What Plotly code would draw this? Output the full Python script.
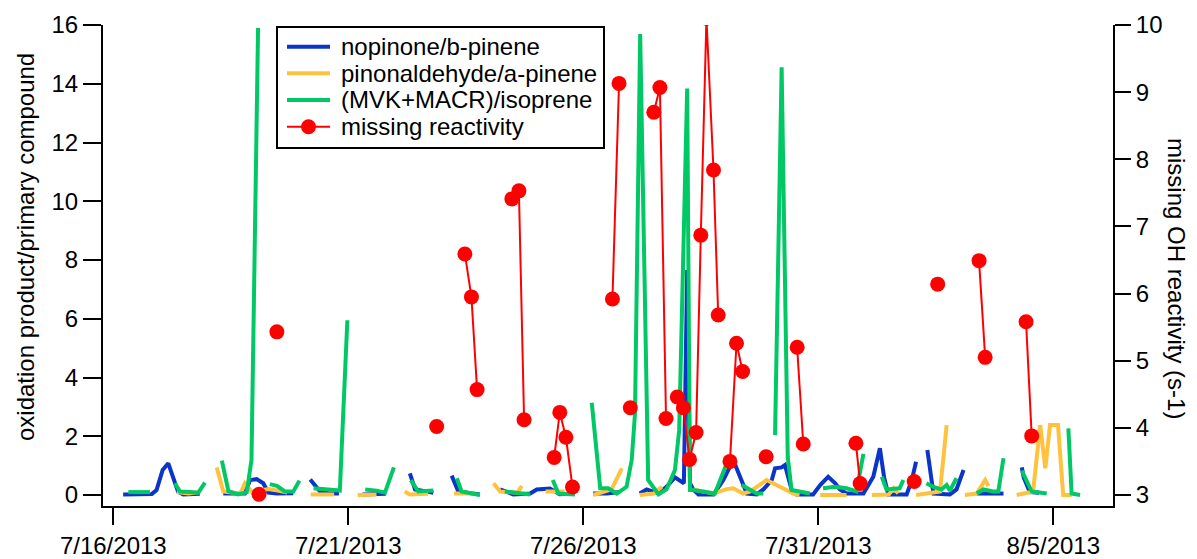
import plotly.graph_objects as go
from plotly.subplots import make_subplots
from datetime import datetime, timedelta

BASE = datetime(2013, 7, 16)

def to_time(d):
    return None if d is None else (BASE + timedelta(days=d)).strftime('%Y-%m-%d %H:%M:%S')

# ---- data: day offsets from 7/16/2013 00:00 (None = gap) ----
nopinone_days = [0.21, 0.5, 0.82, 0.92, 1.05, 1.17, 1.28, 1.38, 1.49, 1.7, 1.84, None,
                 2.34, 2.8, 2.91, 3.05, 3.19, 3.3, 3.48, 3.83, None,
                 4.19, 4.4, 4.6, 4.8, None,
                 5.3, 5.6, 5.8, None,
                 6.31, 6.42, 6.81, None,
                 7.2, 7.34, 7.8, None,
                 8.23, 8.51, 8.87, 9.01, 9.29, 9.5, 9.82, None,
                 10.21, 10.5, 10.78, None,
                 11.2, 11.35, 11.6, 11.77, 11.95, 12.14, 12.21, 12.27, 12.34, 12.45, 12.77, 12.98,
                 13.19, 13.33, 13.48, 13.69, 13.83, 14.01, 14.08, 14.22, 14.29, 14.43, 14.54, 14.89,
                 15.04, 15.21, 15.36, 15.46, 15.6, 15.96, 16.17, 16.31, 16.4, 16.49, 16.88, 16.99, 17.08, None,
                 17.32, 17.45, 17.8, 17.94, 18.09, None,
                 18.37, 18.6, 18.94, None,
                 19.33, 19.37, 19.5, 19.7]
nopinone_ratio = [0.02, 0.03, 0.03, 0.17, 0.85, 1.08, 0.62, 0.11, 0.02, 0.05, 0.04, None,
                  0.05, 0.05, 0.51, 0.54, 0.4, 0.08, 0.05, 0.06, None,
                  0.53, 0.12, 0.05, 0.05, None,
                  0.02, 0.03, 0.04, None,
                  0.74, 0.19, 0.08, None,
                  0.66, 0.12, 0.02, None,
                  0.19, 0.02, 0.05, 0.19, 0.22, 0.03, 0.05, None,
                  0.05, 0.05, 0.1, None,
                  0.05, 0.19, 0.05, 0.28, 0.6, 0.4, 7.66, 0.4, 0.19, 0.02, 0.02, 0.51,
                  1.19, 0.68, 0.05, 0.02, 0.19, 0.51, 0.91, 0.94, 1.02, 0.19, 0.02, 0.02,
                  0.34, 0.62, 0.4, 0.19, 0.05, 0.05, 0.62, 1.59, 0.6, 0.02, 0.02, 0.51, 1.13, None,
                  1.53, 0.05, 0.02, 0.19, 0.85, None,
                  0.05, 0.05, 0.05, None,
                  0.94, 0.6, 0.1, 0.08]

pinonaldehyde_days = [1.35, 1.6, 1.84, None,
                      2.2, 2.34, 2.7, 2.8, 2.95, 3.3, 3.5, 3.7, None,
                      4.2, 4.7, None,
                      5.2, 5.6, None,
                      6.2, 6.31, 6.7, None,
                      7.25, 7.7, None,
                      8.09, 8.23, 8.6, 8.69, None,
                      9.2, 9.6, None,
                      10.21, 10.6, 10.82, None,
                      11.2, 11.5, 11.67, None,
                      12.34, 12.77, 13.05, 13.19, 13.4, 13.55, 13.9, 14.18, 14.47, 14.6, None,
                      15.04, 15.6, None,
                      16.14, 16.5, 16.6, 16.7, None,
                      17.08, 17.59, 17.73, None,
                      18.12, 18.37, 18.55, 18.62, None,
                      19.22, 19.57, 19.72, 19.83, 19.93, 20.1, 20.21, 20.39]
pinonaldehyde_ratio = [0.1, 0.05, 0.1, None,
                       0.94, 0.12, 0.05, 0.4, 0.1, 0.2, 0.15, 0.08, None,
                       0.02, 0.02, None,
                       0.0, 0.02, None,
                       0.12, 0.02, 0.04, None,
                       0.05, 0.05, None,
                       0.4, 0.12, 0.08, 0.31, None,
                       0.12, 0.12, None,
                       0.0, 0.19, 0.91, None,
                       0.0, 0.05, 0.28, None,
                       0.19, 0.05, 0.2, 0.23, 0.05, 0.12, 0.51, 0.28, 0.05, 0.0, None,
                       0.0, 0.0, None,
                       0.0, 0.02, 0.23, 0.05, None,
                       0.0, 0.12, 2.38, None,
                       0.0, 0.05, 0.51, 0.3, None,
                       0.0, 0.12, 2.38, 0.91, 2.38, 2.38, 0.0, 0.0]

mvk_macr_days = [0.32, 0.78, None,
                 1.31, 1.42, 1.63, 1.81, 1.95, None,
                 2.31, 2.45, 2.66, 2.84, 2.94, 3.08, None,
                 3.33, 3.48, 3.65, 3.83, 3.96, None,
                 4.26, 4.82, 4.98, None,
                 5.36, 5.6, 5.78, 5.97, None,
                 6.33, 6.49, 6.81, None,
                 7.31, 7.41, 7.8, None,
                 8.33, 8.87, None,
                 9.35, 9.47, 9.82, None,
                 10.18, 10.36, 10.53, 10.71, 10.92, 11.03, 11.1, 11.21, 11.38, 11.6, 11.77, 11.95,
                 12.04, 12.21, 12.27, 12.34, 12.8, 13.08, None,
                 13.37, 13.69, 13.83, None,
                 14.08, 14.22, 14.35, 14.43, 14.82, None,
                 15.1, 15.36, 15.6, 15.81, 15.96, None,
                 16.35, 16.45, 16.73, 16.81, None,
                 17.3, 17.45, 17.62, 17.73, 17.8, 17.94, None,
                 18.37, 18.51, 18.72, 18.83, 18.94, None,
                 19.33, 19.54, 19.86, None,
                 20.32, 20.39, 20.57]
mvk_macr_ratio = [0.1, 0.1, None,
                  0.4, 0.12, 0.1, 0.08, 0.42, None,
                  1.17, 0.13, 0.02, 0.1, 1.19, 15.9, None,
                  0.37, 0.31, 0.12, 0.12, 0.49, None,
                  0.23, 0.15, 5.95, None,
                  0.19, 0.15, 0.08, 0.94, None,
                  0.51, 0.12, 0.15, None,
                  0.57, 0.12, 0.0, None,
                  0.12, 0.02, None,
                  0.51, 0.05, 0.02, None,
                  3.14, 0.23, 0.23, 0.05, 0.28, 1.19, 2.78, 15.69, 0.51, 0.02, 0.19, 0.85,
                  2.2, 13.84, 0.17, 0.17, 0.05, 1.19, None,
                  0.34, 0.05, 0.05, None,
                  2.04, 14.56, 1.3, 0.17, 0.05, None,
                  0.23, 0.28, 0.23, 0.12, 1.4, None,
                  0.62, 0.19, 0.23, 0.51, None,
                  0.4, 0.28, 0.19, 0.34, 0.15, 0.57, None,
                  0.05, 0.19, 0.12, 0.12, 1.25, None,
                  0.83, 0.12, 0.05, None,
                  2.27, 0.05, 0.0]

reactivity_days = [3.1, None, 3.48, None, 6.88, None,
                   7.48, 7.62, 7.74, None,
                   8.48, 8.63, 8.74, None,
                   9.38, 9.5, 9.63, 9.77, None,
                   10.62, 10.76, None, 11.0, None,
                   11.5, 11.63, 11.76, None,
                   12.0, 12.13, 12.26, 12.4, 12.5, 12.62, 12.77, 12.87, None,
                   13.12, 13.26, 13.39, None, 13.89, None,
                   14.55, 14.68, None,
                   15.8, 15.89, None, 17.04, None, 17.54, None,
                   18.42, 18.55, None,
                   19.42, 19.54]
reactivity_vals = [3.01, None, 5.43, None, 4.02, None,
                   6.59, 5.95, 4.57, None,
                   7.41, 7.53, 4.12, None,
                   3.56, 4.23, 3.86, 3.12, None,
                   5.92, 9.13, None, 4.3, None,
                   8.70, 9.07, 4.14, None,
                   4.46, 4.3, 3.53, 3.93, 6.87, 10.1, 7.84, 5.68, None,
                   3.5, 5.26, 4.84, None, 3.57, None,
                   5.2, 3.76, None,
                   3.77, 3.17, None, 3.2, None, 6.14, None,
                   6.49, 5.05, None,
                   5.58, 3.88]

tick_days = [0, 5, 10, 15, 20]
tick_labels = ['7/16/2013', '7/21/2013', '7/26/2013', '7/31/2013', '8/5/2013']

series_names = ['nopinone/b-pinene', 'pinonaldehyde/a-pinene', '(MVK+MACR)/isoprene', 'missing reactivity']
series_colors = ['#0A35C8', '#FFC23F', '#00C864', '#FF0000']

FONT = 'Liberation Sans, Arial, sans-serif'

# page pixel geometry (the html body adds an 8px offset)
FIG_W, FIG_H = 1189, 551
PL, PR, PT, PB = 103, 1113, 25, 506          # plot area in page pixels
OFF = 8

def px_x(px):
    return (px - PL) / (PR - PL)

def px_y(py):
    return (PB - py) / (PB - PT)

fig = make_subplots(specs=[[{"secondary_y": True}]])

fig.add_trace(go.Scatter(x=[to_time(d) for d in nopinone_days], y=nopinone_ratio,
                         mode='lines', name=series_names[0],
                         line=dict(color=series_colors[0], width=4), connectgaps=False), secondary_y=False)
fig.add_trace(go.Scatter(x=[to_time(d) for d in pinonaldehyde_days], y=pinonaldehyde_ratio,
                         mode='lines', name=series_names[1],
                         line=dict(color=series_colors[1], width=4), connectgaps=False), secondary_y=False)
fig.add_trace(go.Scatter(x=[to_time(d) for d in mvk_macr_days], y=mvk_macr_ratio,
                         mode='lines', name=series_names[2],
                         line=dict(color=series_colors[2], width=4), connectgaps=False), secondary_y=False)
fig.add_trace(go.Scatter(x=[to_time(d) for d in reactivity_days], y=reactivity_vals,
                         mode='lines+markers', name=series_names[3],
                         line=dict(color=series_colors[3], width=2),
                         marker=dict(color=series_colors[3], size=15), connectgaps=False), secondary_y=True)

axis_common = dict(showgrid=False, zeroline=False, showline=True, linewidth=2, linecolor='black',
                   ticks='outside', tickwidth=2, tickcolor='black', automargin=False,
                   tickfont=dict(family=FONT, size=24, color='black'))

fig.update_xaxes(type='date', range=[to_time(-0.219), to_time(21.27)], domain=[0, 1],
                 tickmode='array', tickvals=[to_time(d) for d in tick_days], ticktext=tick_labels,
                 ticklen=17, **axis_common)
fig.update_yaxes(range=[-0.374, 16], tickmode='array', tickvals=list(range(0, 17, 2)),
                 ticklen=18, secondary_y=False, **axis_common)
fig.update_yaxes(range=[2.836, 10], tickmode='array', tickvals=list(range(3, 11)),
                 ticklen=16, secondary_y=True, **axis_common)

# ---- manual legend (box, symbols, texts) ----
LEG_L, LEG_R, LEG_T, LEG_B = 277, 604, 27, 148
row_y = [46.7, 73.3, 100.0, 126.7]
shapes = [dict(type='rect', xref='paper', yref='paper', layer='above',
               x0=px_x(LEG_L), x1=px_x(LEG_R), y0=px_y(LEG_B), y1=px_y(LEG_T),
               fillcolor='white', line=dict(color='black', width=2))]
annotations = []
for i, (nm, col) in enumerate(zip(series_names, series_colors)):
    yy = px_y(row_y[i])
    shapes.append(dict(type='line', xref='paper', yref='paper', layer='above',
                       x0=px_x(287), x1=px_x(330), y0=yy, y1=yy,
                       line=dict(color=col, width=4 if i < 3 else 2)))
    annotations.append(dict(text=nm, xref='paper', yref='paper', x=px_x(339), y=yy,
                            xanchor='left', yanchor='middle', showarrow=False,
                            font=dict(family=FONT, size=24, color='black')))
r = 7.5
shapes.append(dict(type='circle', xref='paper', yref='paper', layer='above',
                   x0=px_x(308.5 - r), x1=px_x(308.5 + r),
                   y0=px_y(row_y[3] + r), y1=px_y(row_y[3] - r),
                   fillcolor=series_colors[3], line=dict(color=series_colors[3], width=0)))

annotations += [
    dict(text='oxidation product/primary compound', xref='paper', yref='paper',
         x=px_x(25), y=px_y(247), xanchor='center', yanchor='middle', textangle=-90,
         showarrow=False, font=dict(family=FONT, size=24, color='black')),
    dict(text='missing OH reactivity (s-1)', xref='paper', yref='paper',
         x=px_x(1177), y=px_y(278), xanchor='center', yanchor='middle', textangle=90,
         showarrow=False, font=dict(family=FONT, size=24, color='black')),
]

fig.update_layout(
    width=FIG_W, height=FIG_H,
    margin=dict(l=PL - OFF, r=FIG_W - (PR - OFF), t=PT - OFF, b=FIG_H - (PB - OFF), autoexpand=False),
    paper_bgcolor='white', plot_bgcolor='white',
    font=dict(family=FONT, size=24, color='black'),
    showlegend=False,
    shapes=shapes,
    annotations=annotations,
)

fig.write_html('out.html')
